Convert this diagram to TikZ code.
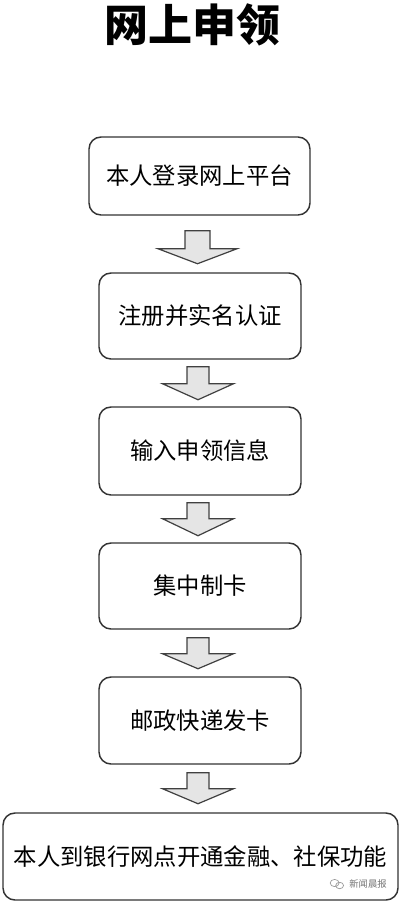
\documentclass[tikz,border=0pt]{standalone}
\usepackage{fontspec}
\setmainfont{Noto Sans CJK SC}
\usetikzlibrary{calc}
\tikzset{
  stepbox/.style={draw=black!80, line width=1.1pt, rounded corners=9pt, fill=white,
    text=black, font=\fontsize{17.5}{20}\selectfont, inner sep=0pt, align=center},
  blockarrow/.style={draw=black!75, line width=0.9pt, fill=black!10, line join=miter},
  titletext/.style={font=\fontsize{33}{36}\selectfont\bfseries, text=black},
  marktext/.style={font=\fontsize{7}{8}\selectfont, text=black!55}
}
% #1 upper node, #2 gap below it, #3 half stem width, #4 half head width, #5 stem length, #6 head length
\newcommand{\blockarrowfrom}[6]{%
  \draw[blockarrow] ($(#1.south)+(-2-#3,#2)$) -- ++(2*#3,0) -- ++(0,#5) -- ++(#4-#3,0)
    -- ++(-#4,#6) -- ++(-#4,-#6) -- ++(#4-#3,0) -- cycle;}
\begin{document}
\begin{tikzpicture}[x=0.75pt,y=-0.75pt]
\useasboundingbox (0,0) rectangle (400,903);
\fill[white] (0,0) rectangle (400,903);
\node[titletext] (title) at (192.5,25) {网上申领};

\node[stepbox, minimum width=165.75pt, minimum height=58.5pt] (b1) at (199.5,176)
  {\raisebox{-3.5pt}{本人登录网上平台}};
\node[stepbox, minimum width=151.5pt, minimum height=64.5pt] (b2) at (200,316)
  {\raisebox{-3pt}{注册并实名认证}};
\node[stepbox, minimum width=151.5pt, minimum height=66pt] (b3) at (200,451)
  {\raisebox{-1.2pt}{输入申领信息}};
\node[stepbox, minimum width=151.5pt, minimum height=64.5pt] (b4) at (200,586)
  {\raisebox{-1.5pt}{集中制卡}};
\node[stepbox, minimum width=151.5pt, minimum height=65.25pt] (b5) at (200,720.5)
  {\raisebox{-1.2pt}{邮政快递发卡}};
\node[stepbox, minimum width=296.25pt, minimum height=65.25pt] (b6) at (200.5,856.5)
  {\raisebox{-1.2pt}{本人到银行网点开通金融、社保功能}};

\blockarrowfrom{b1}{15}{12.5}{39.5}{18}{15}
\blockarrowfrom{b2}{7}{11}{35.5}{17}{16}
\blockarrowfrom{b3}{7}{11}{35.5}{16}{17}
\blockarrowfrom{b4}{8}{11}{35.5}{16}{15}
\blockarrowfrom{b5}{8}{11}{35.5}{16}{15}

% watermark
\node[marktext] (mark) at (368,884) {新闻晨报};
\draw[black!40, line width=0.5pt] ($(mark.west)+(-10,-1)$) ellipse [x radius=4.5, y radius=3.6];
\draw[black!40, line width=0.5pt] ($(mark.west)+(-5,1.5)$) ellipse [x radius=4, y radius=3.2];
\end{tikzpicture}
\end{document}
